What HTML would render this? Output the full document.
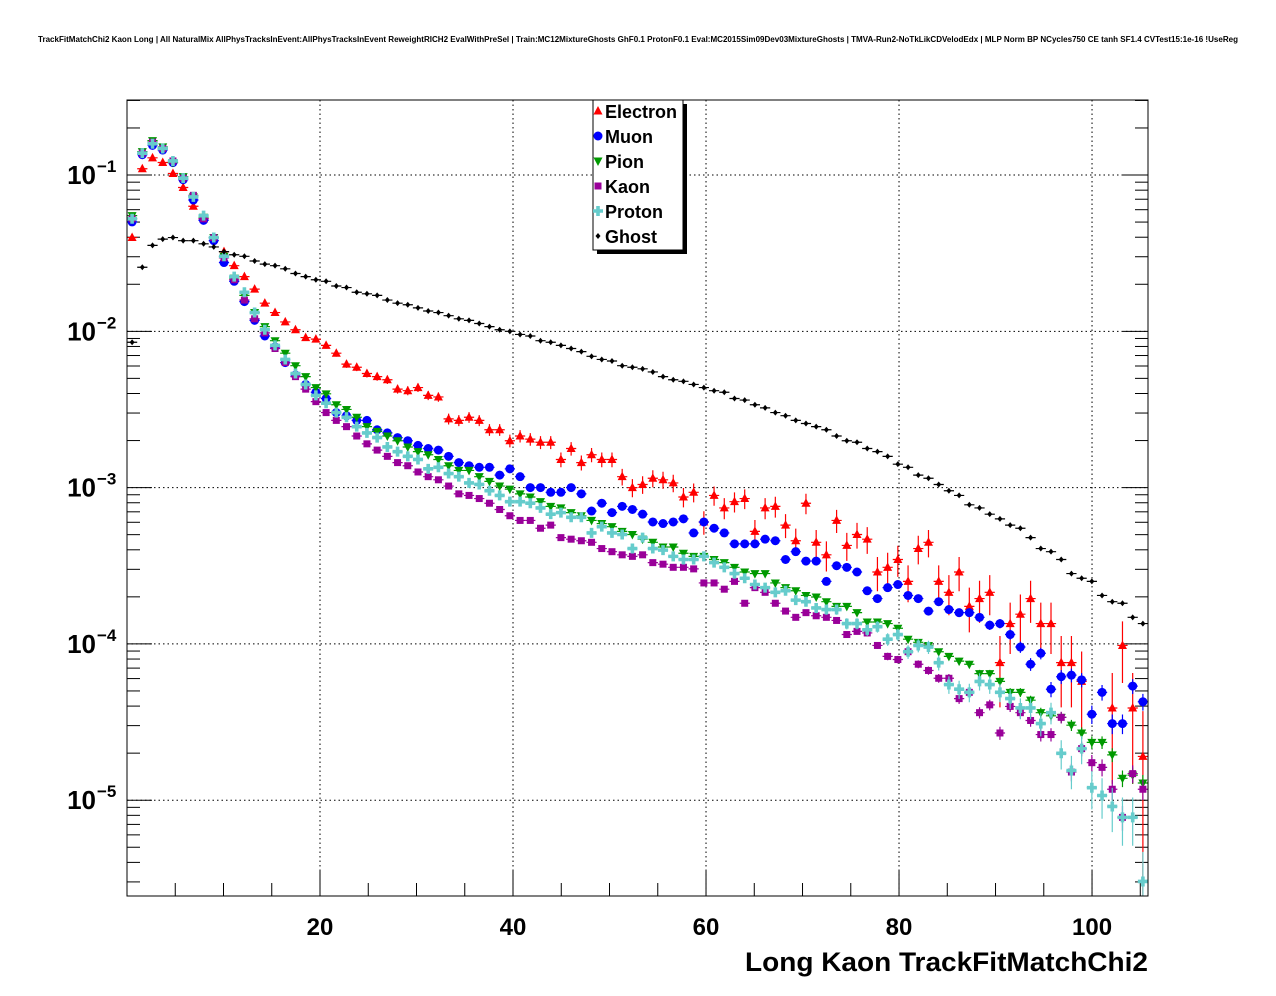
<!DOCTYPE html>
<html><head><meta charset="utf-8"><style>
html,body{margin:0;padding:0;background:#fff;}
svg{display:block;font-family:"Liberation Sans",Arial,sans-serif;}
</style></head><body>
<svg id="chart" width="1276" height="996" viewBox="0 0 1276 996" xmlns="http://www.w3.org/2000/svg">
<rect x="0" y="0" width="1276" height="996" fill="#fff"/>
<text x="38" y="42" font-size="8" font-weight="bold" textLength="1200" lengthAdjust="spacingAndGlyphs">TrackFitMatchChi2 Kaon Long | All NaturalMix AllPhysTracksInEvent:AllPhysTracksInEvent ReweightRICH2 EvalWithPreSel | Train:MC12MixtureGhosts GhF0.1 ProtonF0.1 Eval:MC2015Sim09Dev03MixtureGhosts | TMVA-Run2-NoTkLikCDVelodEdx | MLP Norm BP NCycles750 CE tanh SF1.4 CVTest15:1e-16 !UseReg</text>
<g id="grid"></g>
<g id="ticks"></g>
<g id="series"></g>
<rect x="127" y="100" width="1021" height="796" fill="none" stroke="#000" stroke-width="1"/>
<g id="labels"></g>
<text x="745" y="971" font-size="27" font-weight="bold" textLength="403" lengthAdjust="spacingAndGlyphs">Long Kaon TrackFitMatchChi2</text>
<g id="legend"></g>
</svg>
<script>
// log10 of normalized entries per bin (100 bins spanning 0..105.8)
const electronLog10=[-1.40,-0.96,-0.89,-0.92,-0.99,-1.08,-1.20,-1.28,-1.40,-1.49,-1.58,-1.65,-1.73,-1.82,-1.88,-1.94,-1.99,-2.04,-2.05,-2.09,-2.14,-2.21,-2.23,-2.27,-2.29,-2.31,-2.37,-2.38,-2.36,-2.41,-2.42,-2.56,-2.57,-2.55,-2.57,-2.63,-2.63,-2.70,-2.67,-2.69,-2.71,-2.71,-2.82,-2.75,-2.84,-2.79,-2.82,-2.82,-2.93,-3.00,-2.98,-2.94,-2.95,-2.97,-3.06,-3.03,-3.22,-3.05,-3.13,-3.09,-3.07,-3.28,-3.13,-3.12,-3.24,-3.34,-3.10,-3.35,-3.43,-3.21,-3.37,-3.30,-3.33,-3.54,-3.51,-3.46,-3.60,-3.39,-3.35,-3.60,-3.67,-3.54,-3.76,-3.71,-3.67,-4.12,-3.87,-3.81,-3.71,-3.87,-3.87,-4.12,-4.12,-4.24,null,null,-4.41,-4.01,-4.41,-4.72];
const muonLog10=[-1.30,-0.87,-0.81,-0.84,-0.92,-1.03,-1.16,-1.29,-1.42,-1.56,-1.68,-1.81,-1.93,-2.03,-2.10,-2.20,-2.28,-2.34,-2.39,-2.43,-2.52,-2.54,-2.57,-2.57,-2.63,-2.65,-2.68,-2.70,-2.73,-2.75,-2.76,-2.80,-2.84,-2.86,-2.87,-2.87,-2.92,-2.88,-2.93,-3.00,-3.00,-3.03,-3.03,-3.00,-3.04,-3.15,-3.10,-3.16,-3.12,-3.14,-3.17,-3.22,-3.23,-3.22,-3.20,-3.29,-3.22,-3.26,-3.29,-3.36,-3.36,-3.36,-3.33,-3.34,-3.46,-3.41,-3.47,-3.47,-3.60,-3.50,-3.51,-3.54,-3.66,-3.71,-3.64,-3.62,-3.69,-3.71,-3.79,-3.73,-3.78,-3.80,-3.80,-3.83,-3.88,-3.87,-3.94,-4.02,-4.13,-4.06,-4.29,-4.21,-4.20,-4.23,-4.45,-4.31,-4.51,-4.51,-4.27,-4.37];
const pionLog10=[-1.26,-0.85,-0.78,-0.82,-0.92,-1.01,-1.14,-1.27,-1.40,-1.52,-1.66,-1.77,-1.88,-1.97,-2.06,-2.14,-2.22,-2.29,-2.36,-2.40,-2.47,-2.50,-2.55,-2.61,-2.64,-2.67,-2.70,-2.74,-2.77,-2.79,-2.82,-2.86,-2.89,-2.89,-2.93,-2.96,-2.99,-3.01,-3.04,-3.06,-3.09,-3.12,-3.13,-3.16,-3.18,-3.21,-3.23,-3.25,-3.28,-3.30,-3.33,-3.35,-3.38,-3.38,-3.42,-3.44,-3.44,-3.46,-3.48,-3.51,-3.54,-3.55,-3.55,-3.61,-3.64,-3.66,-3.69,-3.70,-3.73,-3.76,-3.76,-3.80,-3.86,-3.86,-3.87,-3.90,-3.97,-3.99,-4.01,-4.05,-4.08,-4.11,-4.13,-4.19,-4.19,-4.24,-4.31,-4.31,-4.36,-4.44,-4.46,-4.47,-4.52,-4.57,-4.63,-4.63,-4.71,-4.86,-4.84,-4.89];
const kaonLog10=[-1.28,-0.86,-0.79,-0.83,-0.91,-1.02,-1.13,-1.28,-1.40,-1.53,-1.67,-1.80,-1.92,-2.01,-2.11,-2.20,-2.29,-2.37,-2.45,-2.52,-2.57,-2.61,-2.67,-2.72,-2.76,-2.80,-2.84,-2.86,-2.90,-2.93,-2.95,-2.99,-3.04,-3.05,-3.07,-3.10,-3.14,-3.18,-3.21,-3.21,-3.26,-3.24,-3.32,-3.33,-3.34,-3.35,-3.39,-3.41,-3.43,-3.44,-3.43,-3.48,-3.49,-3.51,-3.51,-3.52,-3.61,-3.61,-3.65,-3.60,-3.74,-3.64,-3.67,-3.74,-3.79,-3.83,-3.80,-3.82,-3.83,-3.85,-3.94,-3.92,-3.93,-4.01,-4.08,-4.10,-4.05,-4.13,-4.17,-4.22,-4.22,-4.35,-4.31,-4.44,-4.39,-4.57,-4.40,-4.44,-4.49,-4.58,-4.58,-4.47,-4.82,-4.67,-4.76,-4.79,-4.93,-5.11,-4.83,-4.93];
const protonLog10=[-1.28,-0.86,-0.80,-0.83,-0.91,-1.02,-1.14,-1.26,-1.40,-1.52,-1.65,-1.75,-1.88,-1.99,-2.09,-2.18,-2.27,-2.34,-2.41,-2.46,-2.52,-2.55,-2.61,-2.65,-2.68,-2.74,-2.77,-2.80,-2.82,-2.88,-2.87,-2.91,-2.93,-2.97,-2.98,-3.02,-3.05,-3.09,-3.09,-3.10,-3.13,-3.17,-3.16,-3.19,-3.19,-3.29,-3.25,-3.29,-3.30,-3.39,-3.32,-3.39,-3.40,-3.44,-3.46,-3.46,-3.44,-3.48,-3.51,-3.55,-3.58,-3.62,-3.64,-3.67,-3.66,-3.72,-3.73,-3.77,-3.78,-3.78,-3.87,-3.87,-3.91,-3.89,-3.97,-3.94,-4.05,-4.01,-4.02,-4.12,-4.26,-4.29,-4.31,-4.24,-4.26,-4.31,-4.35,-4.41,-4.41,-4.51,-4.44,-4.70,-4.81,-4.67,-4.92,-4.97,-5.04,-5.11,-5.11,-5.52];
const ghostLog10=[-2.07,-1.59,-1.45,-1.41,-1.40,-1.42,-1.42,-1.44,-1.46,-1.49,-1.51,-1.52,-1.55,-1.57,-1.58,-1.60,-1.63,-1.65,-1.67,-1.68,-1.71,-1.72,-1.75,-1.76,-1.77,-1.80,-1.82,-1.83,-1.85,-1.87,-1.88,-1.90,-1.92,-1.93,-1.95,-1.97,-1.99,-2.00,-2.02,-2.03,-2.06,-2.07,-2.09,-2.11,-2.13,-2.16,-2.18,-2.19,-2.22,-2.23,-2.24,-2.26,-2.29,-2.31,-2.32,-2.34,-2.36,-2.38,-2.39,-2.43,-2.44,-2.47,-2.49,-2.52,-2.54,-2.57,-2.59,-2.61,-2.63,-2.67,-2.70,-2.71,-2.75,-2.77,-2.80,-2.85,-2.87,-2.92,-2.94,-2.98,-3.02,-3.05,-3.11,-3.13,-3.17,-3.20,-3.24,-3.26,-3.32,-3.39,-3.41,-3.46,-3.55,-3.58,-3.60,-3.69,-3.73,-3.74,-3.83,-3.87];
const seriesNames=["Electron","Muon","Pion","Kaon","Proton","Ghost"];
const xTicks=[20,40,60,80,100];
const yDecades=[-1,-2,-3,-4,-5];

const NS="http://www.w3.org/2000/svg";
const X0=127,X1=1148,Y0=896,Y1=100;
const XMIN=0,XMAX=105.8,LMIN=-5.613,LMAX=-0.52;
const NB=100,BW=(XMAX-XMIN)/NB;
function xs(v){return X0+(v-XMIN)/(XMAX-XMIN)*(X1-X0);}
function ys(l){return Y0-(l-LMIN)/(LMAX-LMIN)*(Y0-Y1);}
function mk(tag,attrs,parent){const e=document.createElementNS(NS,tag);for(const k in attrs)e.setAttribute(k,attrs[k]);parent.appendChild(e);return e;}
const grid=document.getElementById('grid'),ticks=document.getElementById('ticks'),labels=document.getElementById('labels'),ser=document.getElementById('series'),leg=document.getElementById('legend');

xTicks.forEach(t=>{
  const l=mk('line',{x1:xs(t),x2:xs(t),y1:Y1,y2:Y0,stroke:'#000','stroke-dasharray':'1.5,3','stroke-width':1},grid);
  
  
  const tx=mk('text',{x:xs(t),y:935,'text-anchor':'middle','font-size':24,'font-weight':'bold'},labels);
  tx.textContent=t;
  
  
});
for(let v=5;v<XMAX;v+=5){
  const major=v%20===0;const len=major?25:13;
  const t=mk('line',{x1:xs(v),x2:xs(v),y1:Y0,y2:Y0-len,stroke:'#000'},ticks);
  
  
}
yDecades.forEach(d=>{
  const l=mk('line',{x1:X0,x2:X1,y1:ys(d),y2:ys(d),stroke:'#000','stroke-dasharray':'1.5,3','stroke-width':1},grid);
  
  
  const tx=mk('text',{x:96,y:ys(d)+9,'text-anchor':'end','font-size':26,'font-weight':'bold'},labels);
  tx.textContent='10';
  
  
  const sp=mk('text',{x:97,y:ys(d)-3,'text-anchor':'start','font-size':17,'font-weight':'bold'},labels);
  sp.textContent='\u2212'+(-d);
  
  
});
for(let d=-6;d<=0;d++){
  for(let m=1;m<=9;m++){
    const l=d+Math.log10(m);
    if(l<LMIN||l>LMAX)continue;
    const len=m===1?25:13;
    [[X0,X0+len],[X1,X1-len]].forEach(p=>{
      const t=mk('line',{x1:p[0],x2:p[1],y1:ys(l),y2:ys(l),stroke:'#000'},ticks);
      
      
    });
  }
}

const styles=[
 {data:electronLog10,color:'#ff0000',shape:'tri',k:0.0042},
 {data:muonLog10,color:'#0000ff',shape:'circle',k:0.0008},
 {data:pionLog10,color:'#009900',shape:'tridown',k:0.00045},
 {data:kaonLog10,color:'#990099',shape:'square',k:0.0005},
 {data:protonLog10,color:'#66cccc',shape:'cross',k:0.00095},
 {data:ghostLog10,color:'#000000',shape:'dot',k:0.0002}
];
function marker(shape,cx,cy,color,parent){
  let e;
  if(shape==='tri')e=mk('polygon',{points:`${cx},${cy-5} ${cx-4.5},${cy+3.5} ${cx+4.5},${cy+3.5}`,fill:color},parent);
  else if(shape==='tridown')e=mk('polygon',{points:`${cx},${cy+5} ${cx-4.5},${cy-3.5} ${cx+4.5},${cy-3.5}`,fill:color},parent);
  else if(shape==='circle')e=mk('circle',{cx:cx,cy:cy,r:4.5,fill:color},parent);
  else if(shape==='square')e=mk('rect',{x:cx-3.5,y:cy-3.5,width:7,height:7,fill:color},parent);
  else if(shape==='cross')e=mk('path',{d:`M${cx-1.8},${cy-5}h3.6v3.2h3.2v3.6h-3.2v3.2h-3.6v-3.2h-3.2v-3.6h3.2z`,fill:color},parent);
  else e=mk('path',{d:`M${cx},${cy-3}L${cx+2.5},${cy}L${cx},${cy+3}L${cx-2.5},${cy}z`,fill:color},parent);
  return e;
}
styles.forEach((s,si)=>{
  const g=mk('g',{},ser);
  
  
  s.data.forEach((l,i)=>{
    if(l===null)return;
    const xc=XMIN+(i+0.5)*BW;
    const cx=xs(xc),cy=ys(l);
    const v=Math.pow(10,l);
    const rel=Math.min(0.95,s.k/Math.sqrt(v));
    const yUp=ys(Math.log10(v*(1+rel))),yDn=ys(Math.max(LMIN,Math.log10(v*(1-rel))));
    const eb=mk('path',{d:`M${xs(xc-BW/2)},${cy}H${xs(xc+BW/2)}M${cx},${yUp}V${Math.min(Y0,yDn)}`,stroke:s.color,'stroke-width':1.2,fill:'none'},g);
    
    
    const m=marker(s.shape,cx,cy,s.color,g);
    
    
  });
});

// legend
mk('rect',{x:597,y:104,width:90,height:150,fill:'#000'},leg);
mk('rect',{x:593,y:100,width:90,height:150,fill:'#fff',stroke:'#000'},leg);
seriesNames.forEach((n,i)=>{
  const y=111+i*25;
  const m=marker(styles[i].shape,598,y,styles[i].color,leg);
  
  
  const t=mk('text',{x:605,y:y+7,'font-size':18,'font-weight':'bold'},leg);
  t.textContent=n;
  
  
});
</script>
</body></html>
